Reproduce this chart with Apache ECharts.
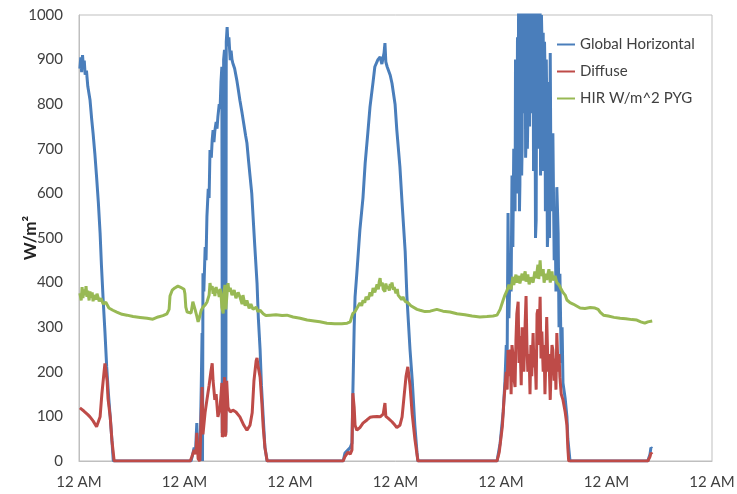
<!DOCTYPE html>
<html>
<head>
<meta charset="utf-8">
<script src="https://cdn.jsdelivr.net/npm/echarts@6/dist/echarts.min.js"></script>
<style>
  html, body { margin: 0; padding: 0; background: #fff; }
  #chart { width: 737px; height: 494px; }
</style>
</head>
<body>
<div id="chart"></div>
<script>
// hours since the first midnight, value in W/m^2
const xTickLabel = '12 AM'
const xMax = 144
const xStep = 24
const yMax = 1000
const yStep = 100

const globalHorizontal = [
  [0.2, 880], [0.4, 905], [0.6, 872], [0.8, 910], [1.0, 884], [1.2, 898], [1.4, 866], [1.7, 875],
  [2.0, 840], [2.5, 810], [2.9, 765], [3.2, 735], [3.6, 690], [4.0, 637], [4.4, 580], [4.8, 511],
  [5.1, 440], [5.5, 361], [5.9, 290], [6.3, 211], [6.7, 150], [7.1, 99], [7.5, 45], [7.8, 0],
  [25.5, 0], [25.8, 12], [26.2, 30], [26.5, 20], [26.8, 85], [27.0, 20], [27.3, 40], [27.5, 0],
  [27.8, 160], [28.0, 287], [28.1, 0], [28.2, 421], [28.4, 380], [28.7, 480], [28.9, 450],
  [29.1, 548], [29.4, 610], [29.6, 590], [29.8, 697], [30.1, 680], [30.3, 720], [30.5, 742],
  [30.7, 715], [30.9, 740], [31.2, 760], [31.4, 745], [31.6, 772], [31.9, 800], [32.1, 790],
  [32.3, 850], [32.5, 884], [32.6, 63], [32.8, 70], [32.9, 900], [33.1, 922], [33.2, 60],
  [33.4, 65], [33.5, 940], [33.7, 973], [33.9, 930], [34.1, 950], [34.4, 899], [34.6, 920],
  [34.8, 900], [35.0, 892], [35.4, 880], [35.9, 854], [36.2, 835], [36.6, 809], [37.1, 780],
  [37.5, 755], [37.9, 730], [38.2, 713], [38.6, 670], [38.9, 640], [39.3, 600], [39.6, 548],
  [40.0, 480], [40.5, 399], [40.8, 320], [41.2, 249], [41.5, 170], [41.9, 99], [42.3, 30], [42.8, 0],
  [60.1, 0], [60.5, 18], [61.2, 25], [61.7, 30], [62.1, 40], [62.3, 152], [62.6, 300], [62.8, 368],
  [63.2, 420], [63.9, 518], [64.6, 590], [65.1, 668], [65.7, 735], [66.2, 794], [66.9, 850],
  [67.3, 884], [68.0, 900], [68.5, 906], [68.9, 890], [69.4, 915], [69.6, 937], [69.8, 895],
  [70.1, 884], [70.8, 865], [71.2, 847], [71.9, 800], [72.3, 742], [73.0, 660], [73.5, 578],
  [74.2, 470], [74.6, 368], [75.3, 250], [75.8, 182], [76.4, 80], [76.9, 18], [77.1, 0],
  [95.1, 0], [95.8, 40], [96.5, 110], [96.9, 180], [97.2, 260], [97.4, 230], [97.6, 556],
  [97.8, 320], [98.1, 450], [98.3, 380], [98.5, 640], [98.7, 480], [98.9, 700], [99.2, 560],
  [99.3, 900], [99.4, 861], [99.5, 640], [99.6, 600], [99.75, 950], [99.9, 780], [100.0, 1020],
  [100.1, 836], [100.2, 560], [100.3, 620], [100.45, 1050], [100.6, 1050], [100.7, 640],
  [100.8, 700], [100.9, 1050], [101.0, 1050], [101.1, 780], [101.2, 850], [101.35, 1050],
  [101.5, 1040], [101.6, 680], [101.7, 720], [101.8, 1050], [101.9, 1050], [102.0, 700],
  [102.1, 765], [102.25, 1050], [102.4, 1030], [102.5, 750], [102.6, 900], [102.7, 1050],
  [102.8, 1050], [102.9, 780], [103.0, 820], [103.15, 1050], [103.3, 1000], [103.4, 650],
  [103.5, 700], [103.6, 1040], [103.7, 960], [103.85, 500], [104.0, 540], [104.1, 900],
  [104.2, 720], [104.3, 1050], [104.4, 1040], [104.5, 700], [104.6, 880], [104.75, 1050],
  [104.9, 1010], [105.0, 640], [105.1, 760], [105.2, 1000], [105.3, 950], [105.45, 650],
  [105.6, 960], [105.7, 820], [105.8, 700], [105.9, 940], [106.0, 880], [106.1, 560],
  [106.2, 640], [106.3, 900], [106.4, 809], [106.55, 480], [106.7, 520], [106.8, 850],
  [106.9, 760], [107.05, 500], [107.2, 915], [107.4, 560], [107.6, 690],
  [107.8, 735], [108.1, 450], [108.3, 560], [108.5, 380], [108.7, 614], [109.0, 511],
  [109.2, 300], [109.4, 420], [109.7, 220], [109.9, 300], [110.1, 175], [110.6, 140],
  [111.0, 99], [111.2, 50], [111.7, 0],
  [129.4, 0], [129.9, 15], [130.1, 30], [130.4, 28]
]

const diffuse = [
  [0.2, 119], [1.1, 112], [2.0, 104], [2.5, 99], [3.2, 90], [4.0, 77], [4.3, 80], [4.8, 99],
  [5.2, 150], [5.7, 200], [5.9, 219], [6.1, 215], [6.4, 180], [6.6, 140], [7.1, 99], [7.5, 45], [8.0, 0],
  [25.3, 0], [25.7, 10], [26.2, 25], [26.6, 15], [26.8, 63], [27.1, 5], [27.5, 0], [27.8, 100],
  [28.0, 166], [28.2, 60], [28.7, 110], [29.1, 137], [29.6, 170], [30.0, 200], [30.3, 219],
  [30.5, 180], [30.9, 137], [31.2, 150], [31.6, 99], [32.1, 120], [32.5, 175], [32.6, 54],
  [32.8, 60], [33.0, 150], [33.1, 188], [33.2, 55], [33.4, 60], [33.6, 180], [33.9, 120],
  [34.4, 110], [35.0, 114], [35.7, 110], [36.6, 99], [37.5, 80], [38.2, 69], [38.9, 80],
  [39.4, 108], [39.8, 180], [40.3, 225], [40.5, 231], [40.7, 215], [41.2, 188], [41.6, 130],
  [41.9, 77], [42.3, 30], [42.8, 0],
  [60.1, 0], [60.5, 10], [61.2, 20], [61.7, 15], [62.1, 25], [62.3, 152], [62.6, 120], [62.8, 80],
  [63.2, 69], [63.9, 75], [64.6, 85], [65.5, 92], [66.2, 98], [66.9, 99], [67.8, 100], [68.5, 99],
  [69.2, 105], [69.6, 130], [69.8, 100], [70.3, 96], [71.2, 88], [71.9, 80], [72.3, 75], [73.0, 80],
  [73.5, 99], [73.9, 140], [74.4, 190], [74.8, 211], [75.3, 170], [75.8, 105], [76.4, 50], [77.1, 0],
  [95.1, 0], [95.6, 20], [96.3, 77], [96.7, 140], [97.2, 200], [97.4, 160], [97.6, 249], [97.8, 190],
  [98.1, 250], [98.3, 150], [98.5, 260], [98.7, 240], [98.9, 190], [99.2, 166], [99.4, 270],
  [99.6, 330], [99.9, 357], [100.1, 220], [100.3, 280], [100.6, 170], [100.8, 300], [101.0, 240],
  [101.2, 200], [101.5, 310], [101.7, 370], [101.9, 260], [102.1, 200], [102.4, 240], [102.6, 150],
  [102.8, 260], [103.0, 190], [103.3, 287], [103.5, 210], [103.7, 250], [104.0, 160], [104.2, 330],
  [104.4, 340], [104.6, 260], [104.9, 368], [105.1, 230], [105.3, 290], [105.6, 200], [105.8, 260],
  [106.0, 150], [106.2, 230], [106.4, 323], [106.7, 200], [106.9, 240], [107.2, 137], [107.4, 210],
  [107.6, 260], [107.8, 249], [108.1, 180], [108.3, 230], [108.5, 160], [108.7, 287], [109.0, 200],
  [109.2, 240], [109.4, 188], [109.7, 150], [110.1, 137], [110.6, 110], [111.0, 80], [111.2, 30],
  [111.4, 0],
  [129.4, 0], [129.9, 10], [130.1, 18], [130.4, 15]
]

const hirPyg = [
  [0.2, 376], [0.5, 360], [0.7, 390], [0.9, 365], [1.1, 385], [1.4, 372], [1.6, 392], [1.8, 368],
  [2.0, 382], [2.3, 360], [2.5, 380], [2.7, 366], [3.0, 378], [3.2, 358], [3.4, 372], [3.9, 362],
  [4.1, 375], [4.6, 358], [5.0, 365], [5.5, 352], [6.1, 356], [6.8, 343], [7.7, 338], [8.6, 334],
  [9.8, 329], [10.9, 327], [12.3, 324], [13.9, 322], [15.5, 320], [16.8, 318], [18.0, 323],
  [19.1, 326], [20.0, 330], [20.5, 340], [20.7, 370], [21.2, 383], [21.8, 388], [22.5, 392],
  [23.0, 390], [23.4, 388], [23.9, 385], [24.1, 375], [24.3, 345], [24.6, 334], [25.0, 336],
  [25.5, 332], [25.9, 357], [26.4, 340], [26.8, 325], [27.1, 312], [27.3, 318], [27.8, 338],
  [28.2, 345], [28.7, 350], [29.1, 356], [29.6, 372], [29.8, 399], [30.0, 385], [30.3, 392],
  [30.5, 375], [30.7, 388], [30.9, 370], [31.2, 390], [31.4, 378], [31.6, 384], [31.9, 368],
  [32.1, 386], [32.3, 374], [32.5, 345], [32.8, 331], [33.0, 380], [33.2, 395], [33.4, 340],
  [33.7, 378], [33.9, 399], [34.1, 380], [34.4, 388], [34.8, 372], [35.3, 383], [35.7, 365],
  [36.2, 378], [36.6, 368], [37.1, 352], [37.3, 372], [37.8, 348], [38.2, 360], [38.7, 342],
  [39.1, 352], [39.6, 340], [40.3, 345], [40.7, 335], [41.2, 338], [41.9, 330], [42.5, 326],
  [43.5, 327], [44.8, 328], [46.2, 326], [47.3, 327], [48.7, 323], [50.3, 320], [51.9, 316],
  [53.5, 314], [54.8, 312], [56.4, 309], [58.2, 308], [59.8, 308], [61.0, 309], [61.7, 312],
  [62.1, 325], [62.3, 331], [62.8, 335], [63.2, 338], [63.9, 354], [64.3, 348], [64.6, 360],
  [65.0, 355], [65.3, 368], [65.8, 362], [66.2, 378], [66.6, 370], [66.9, 388], [67.3, 378],
  [67.8, 396], [68.1, 385], [68.3, 402], [68.5, 410], [68.7, 392], [69.0, 400], [69.2, 385],
  [69.6, 380], [69.8, 398], [70.1, 386], [70.3, 392], [70.6, 382], [70.8, 397], [71.0, 388],
  [71.2, 400], [71.5, 384], [71.7, 390], [72.1, 376], [72.4, 386], [72.6, 372], [73.0, 372],
  [73.4, 362], [73.7, 368], [74.2, 358], [74.8, 355], [75.5, 348], [75.9, 345], [76.9, 340],
  [77.6, 338], [78.7, 335], [79.9, 336], [81.4, 340], [82.8, 336],
  [84.4, 334], [86.0, 330], [87.8, 328], [89.4, 325], [91.2, 323], [92.8, 324], [94.2, 325],
  [95.1, 327], [95.8, 340], [96.5, 361], [96.9, 372], [97.4, 383], [97.8, 395], [98.3, 385],
  [98.7, 413], [98.9, 395], [99.4, 418], [99.6, 400], [100.1, 415], [100.3, 398], [100.8, 420],
  [101.0, 405], [101.5, 425], [101.7, 402], [102.1, 418], [102.4, 396], [102.8, 412], [103.3, 400],
  [103.7, 425], [104.0, 410], [104.4, 440], [104.6, 408], [104.9, 450], [105.1, 415], [105.6, 430],
  [105.8, 400], [106.2, 420], [106.4, 406], [106.9, 430], [107.2, 400], [107.6, 425], [107.8, 405],
  [108.3, 415], [108.7, 400], [109.2, 395], [109.7, 385], [110.1, 378], [110.6, 372], [111.0, 361],
  [111.7, 355], [112.4, 352], [113.3, 347], [114.0, 343], [115.1, 342], [116.3, 344], [117.4, 343],
  [118.1, 340], [118.6, 333], [119.3, 327], [120.4, 325], [121.7, 322], [123.1, 320], [124.4, 319],
  [125.8, 317], [126.9, 316], [127.8, 312], [128.7, 309], [129.4, 312], [130.4, 314]
]

const textColor = '#404040'
const fontFamily = 'Lato, "Open Sans", sans-serif'

function lineSeries(name, data, color) {
  return {
    name: name,
    type: 'line',
    data: data,
    symbol: 'none',
    showSymbol: false,
    clip: true,
    color: color,
    lineStyle: { width: 3, color: color },
    emphasis: { disabled: true }
  }
}

const chart = echarts.init(document.getElementById('chart'), null, { renderer: 'canvas' })
chart.setOption({
  animation: false,
  backgroundColor: '#fff',
  textStyle: { fontFamily: fontFamily },
  grid: {
    left: 79, right: 25, top: 15, bottom: 33,
    outerBoundsMode: 'none',
    containLabel: false,
    show: true, borderColor: '#bfbfbf', borderWidth: 1, backgroundColor: 'transparent'
  },
  legend: {
    orient: 'vertical',
    left: 552,
    top: 32,
    icon: 'rect',
    itemWidth: 18,
    itemHeight: 2,
    itemGap: 12,
    textStyle: { fontSize: 15, color: textColor, fontFamily: fontFamily },
    data: ['Global Horizontal', 'Diffuse', 'HIR W/m^2 PYG']
  },
  xAxis: {
    type: 'value',
    min: 0,
    max: xMax,
    interval: xStep,
    axisLine: { lineStyle: { color: '#bfbfbf' } },
    axisTick: { show: false },
    splitLine: { show: false },
    axisLabel: {
      formatter: function () { return xTickLabel },
      alignMinLabel: 'center',
      alignMaxLabel: 'center',
      color: textColor, fontSize: 15, margin: 14, fontFamily: fontFamily
    }
  },
  yAxis: {
    type: 'value',
    min: 0,
    max: yMax,
    interval: yStep,
    name: 'W/m²',
    nameLocation: 'middle',
    nameGap: 40,
    nameMoveOverlap: false,
    nameTextStyle: { fontSize: 17, fontWeight: 'bold', color: '#222', fontFamily: fontFamily },
    axisLine: { show: true, lineStyle: { color: '#bfbfbf' } },
    axisTick: { show: false },
    splitLine: { show: false },
    axisLabel: {
      formatter: function (v) { return String(v) },
      color: textColor, fontSize: 15, margin: 16, fontFamily: fontFamily
    }
  },
  series: [
    lineSeries('Global Horizontal', globalHorizontal, '#4a7ebb'),
    lineSeries('Diffuse', diffuse, '#be4b48'),
    lineSeries('HIR W/m^2 PYG', hirPyg, '#98b954')
  ]
})
</script>
</body>
</html>
